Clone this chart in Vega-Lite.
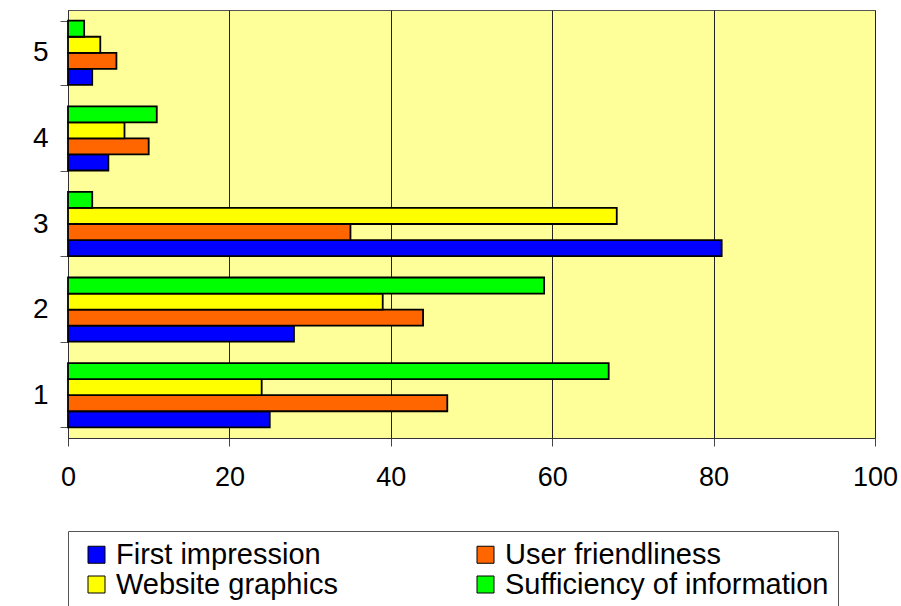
{
  "$schema": "https://vega.github.io/schema/vega-lite/v6.json",
  "width": 807,
  "height": 428,
  "autosize": {"type": "none"},
  "padding": {"left": 68, "top": 10, "right": 26, "bottom": 168},
  "background": "white",
  "config": {
    "font": "Liberation Sans",
    "view": {"fill": "#FFFF99", "stroke": "#555555", "strokeWidth": 1}
  },
  "data": {
    "values": [
      {"rating": "1", "aspect": "First impression", "count": 25},
      {"rating": "1", "aspect": "User friendliness", "count": 47},
      {"rating": "1", "aspect": "Website graphics", "count": 24},
      {"rating": "1", "aspect": "Sufficiency of information", "count": 67},
      {"rating": "2", "aspect": "First impression", "count": 28},
      {"rating": "2", "aspect": "User friendliness", "count": 44},
      {"rating": "2", "aspect": "Website graphics", "count": 39},
      {"rating": "2", "aspect": "Sufficiency of information", "count": 59},
      {"rating": "3", "aspect": "First impression", "count": 81},
      {"rating": "3", "aspect": "User friendliness", "count": 35},
      {"rating": "3", "aspect": "Website graphics", "count": 68},
      {"rating": "3", "aspect": "Sufficiency of information", "count": 3},
      {"rating": "4", "aspect": "First impression", "count": 5},
      {"rating": "4", "aspect": "User friendliness", "count": 10},
      {"rating": "4", "aspect": "Website graphics", "count": 7},
      {"rating": "4", "aspect": "Sufficiency of information", "count": 11},
      {"rating": "5", "aspect": "First impression", "count": 3},
      {"rating": "5", "aspect": "User friendliness", "count": 6},
      {"rating": "5", "aspect": "Website graphics", "count": 4},
      {"rating": "5", "aspect": "Sufficiency of information", "count": 2}
    ]
  },
  "mark": {"type": "bar", "stroke": "black", "strokeWidth": 1.8, "opacity": 1},
  "encoding": {
    "y": {
      "field": "rating",
      "type": "ordinal",
      "sort": "descending",
      "scale": {"paddingInner": 0.25, "paddingOuter": 0.125},
      "axis": {
        "title": null,
        "labelAngle": 0,
        "labelFontSize": 28,
        "labelColor": "black",
        "labelPadding": 12,
        "tickBand": "extent",
        "tickSize": 8,
        "tickColor": "#555555",
        "domainColor": "#333333",
        "grid": false
      }
    },
    "yOffset": {
      "field": "aspect",
      "type": "nominal",
      "sort": ["Sufficiency of information", "Website graphics", "User friendliness", "First impression"],
      "scale": {"paddingInner": 0, "paddingOuter": 0}
    },
    "x": {
      "field": "count",
      "type": "quantitative",
      "scale": {"domain": [0, 100], "nice": false},
      "axis": {
        "title": null,
        "values": [0, 20, 40, 60, 80, 100],
        "grid": true,
        "gridColor": "#222222",
        "gridOpacity": 1,
        "tickSize": 8,
        "tickColor": "#444444",
        "domainColor": "#333333",
        "labelFontSize": 27,
        "labelColor": "black",
        "labelPadding": 18,
        "labelFlush": false
      }
    },
    "color": {
      "field": "aspect",
      "type": "nominal",
      "scale": {
        "domain": ["First impression", "User friendliness", "Website graphics", "Sufficiency of information"],
        "range": ["#0000FF", "#FF6600", "#FFFF00", "#00FF00"]
      },
      "legend": {
        "title": null,
        "orient": "none",
        "direction": "horizontal",
        "legendX": 0,
        "legendY": 521,
        "columns": 2,
        "symbolType": "square",
        "symbolSize": 289,
        "symbolStrokeColor": "black",
        "symbolStrokeWidth": 1,
        "symbolOpacity": 1,
        "symbolOffset": 5,
        "labelFontSize": 29,
        "labelColor": "black",
        "labelOffset": 5,
        "labelLimit": 0,
        "columnPadding": 128,
        "rowPadding": -1,
        "padding": 9,
        "strokeColor": "#555555",
        "fillColor": "white"
      }
    }
  }
}
